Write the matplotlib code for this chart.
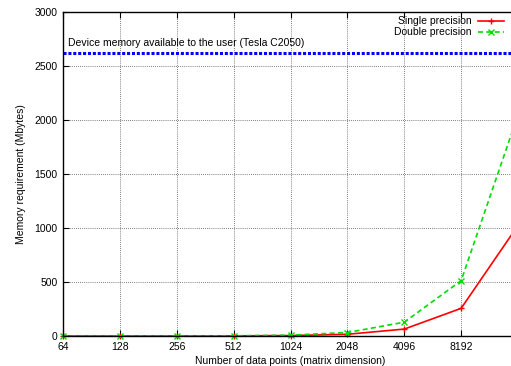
import matplotlib
matplotlib.use("Agg")
import matplotlib.pyplot as plt

# matrix dimension and memory needed (Mbytes)
sizes = [64, 128, 256, 512, 1024, 2048, 4096, 8192, 16384]
single_mb = [0.016, 0.0625, 0.25, 1, 4, 16, 64, 256, 1024]
double_mb = [0.031, 0.125, 0.5, 2, 8, 32, 128, 512, 2048]
device_mem = 2620
tick_sizes = [64, 128, 256, 512, 1024, 2048, 4096, 8192]
y_ticks = [0, 500, 1000, 1500, 2000, 2500, 3000]

plt.rcParams['font.family'] = ['Liberation Sans', 'DejaVu Sans']
plt.rcParams['font.size'] = 7.5

fig = plt.figure(figsize=(5.11, 3.66), dpi=100)
# right edge of plot sits past the picture, as in the original crop
ax = fig.add_axes([63/511, 30/366, (518-63)/511, 324/366])

ax.set_xscale('log', base=2)
ax.set_xlim(64, 16384)
ax.set_ylim(0, 3000)
ax.set_xticks(tick_sizes)
ax.set_xticklabels([str(t) for t in tick_sizes])
ax.minorticks_off()
ax.set_yticks(y_ticks)
ax.grid(True, linestyle=(0, (1, 1.5)), color='#555555', linewidth=0.6)
ax.tick_params(direction='in', length=4, width=0.8, pad=4, top=True, right=True)
for s in ax.spines.values():
    s.set_linewidth(1.0)

ax.axhline(device_mem, color='#0000ff', linestyle=(0, (1, 0.6)), linewidth=2.2)
ax.text(0.011, device_mem + 95, 'Device memory available to the user (Tesla C2050)',
        transform=ax.get_yaxis_transform(), fontsize=7.5, va='center', ha='left')

l1, = ax.plot(sizes, single_mb, color='#ff0000', linewidth=1.2, marker='+',
              markersize=5, markeredgewidth=1.0, clip_on=False)
l2, = ax.plot(sizes, double_mb, color='#00dd00', linewidth=1.2, linestyle=(0, (3, 2)),
              marker='x', markersize=4, markeredgewidth=1.0, clip_on=False)

leg1 = fig.legend([l1], ['Single precision'], loc='upper right', markerfirst=False,
                  frameon=False, bbox_to_anchor=(0.995, 0.967), borderaxespad=0,
                  handlelength=2.5, handletextpad=0.6, fontsize=7.5)
leg2 = fig.legend([l2], ['Double precision'], loc='upper right', markerfirst=False,
                  frameon=False, bbox_to_anchor=(0.995, 0.937), borderaxespad=0,
                  handlelength=2.5, handletextpad=0.6, fontsize=7.5)

ax.set_xlabel('Number of data points (matrix dimension)', labelpad=3)
ax.set_ylabel('Memory requirement (Mbytes)', labelpad=6)

fig.savefig('out.png', dpi=100)
